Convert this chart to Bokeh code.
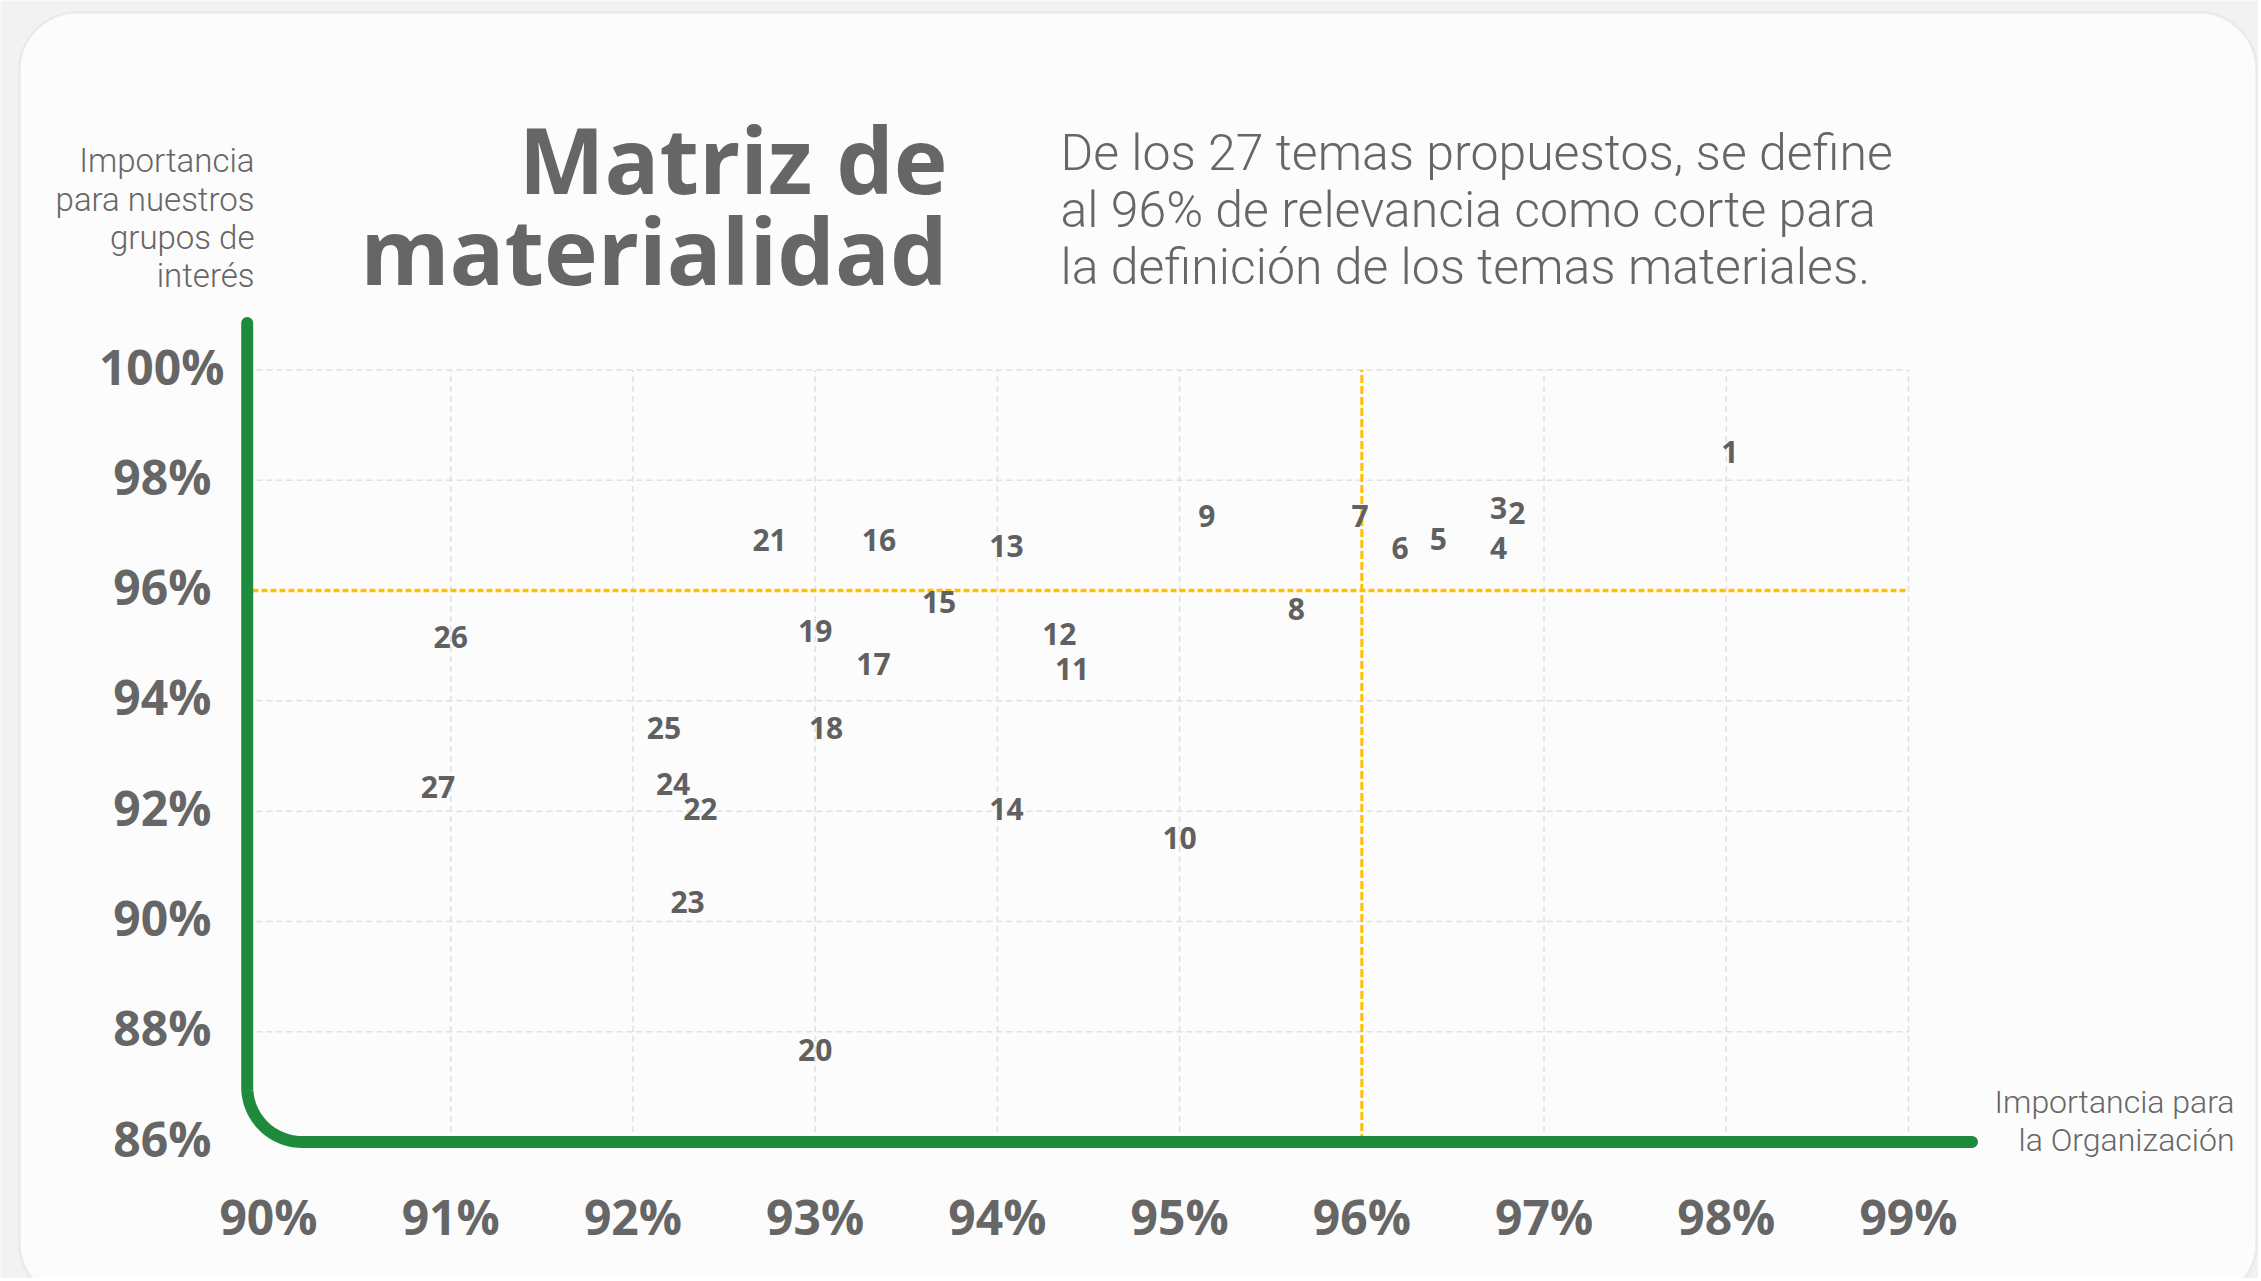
import numpy as np
from bokeh.plotting import figure
from bokeh.models import Range1d, FixedTicker, Label, BoxAnnotation, LinearAxis
from bokeh.core.properties import value
from bokeh.embed import file_html
from bokeh.resources import INLINE

# ---------------- data ----------------
topic_ids = [str(i) for i in range(1, 28)]
org_importance = [98.02, 96.85, 96.75, 96.75, 96.42, 96.21, 95.99, 95.64, 95.15, 95.00,
                  94.41, 94.34, 94.05, 94.05, 93.68, 93.35, 93.32, 93.06, 93.00, 93.00,
                  92.75, 92.37, 92.30, 92.22, 92.17, 91.00, 90.93]
stakeholder_importance = [98.51, 97.41, 97.49, 96.78, 96.94, 96.78, 97.36, 95.67, 97.36, 91.52,
                          94.58, 95.22, 96.80, 92.04, 95.79, 96.91, 94.66, 93.51, 95.26, 87.66,
                          96.91, 92.04, 90.35, 92.49, 93.51, 95.16, 92.43]
x_ticks = [90, 91, 92, 93, 94, 95, 96, 97, 98, 99]
x_tick_labels = ["90%", "91%", "92%", "93%", "94%", "95%", "96%", "97%", "98%", "99%"]
y_ticks = [86, 88, 90, 92, 94, 96, 98, 100]
y_tick_labels = ["86%", "88%", "90%", "92%", "94%", "96%", "98%", "100%"]
cutoff = 96

title_lines = ["Matriz de", "materialidad"]
note_lines = ["De los 27 temas propuestos, se define",
              "al 96% de relevancia como corte para",
              "la definición de los temas materiales."]
y_title_lines = ["Importancia", "para nuestros", "grupos de", "interés"]
x_title_lines = ["Importancia para", "la Organización"]

# ---------------- layout (canvas pixels) ----------------
W, H = 2258, 1278
X0_PX, X1_PX = 268.0, 1908.0     # pixel of first / last x tick
Y0_PX, Y1_PX = 1141.5, 369.5     # pixel of first / last y tick
sx = (X1_PX - X0_PX) / (x_ticks[-1] - x_ticks[0])
sy = (Y0_PX - Y1_PX) / (y_ticks[-1] - y_ticks[0])

def px2x(px):
    return x_ticks[0] + (px - X0_PX) / sx

def px2y(py):
    return y_ticks[0] + (Y0_PX - py) / sy

GRAY = "#666666"
GREEN = "#1e8a3b"
GOLD = "#ffc000"
BOLD = "Open Sans"
LIGHT = "'Roboto Light', 'Lato Light', Roboto"

p = figure(width=W, height=H, output_backend="svg", toolbar_location=None, title=None,
           x_range=Range1d(px2x(0), px2x(W)), y_range=Range1d(px2y(H), px2y(0)),
           y_axis_location=None,
           min_border_left=0, min_border_right=0, min_border_top=0, min_border_bottom=0)
p.border_fill_color = "#f2f2f2"
p.background_fill_color = "#f2f2f2"
p.outline_line_color = None
p.xgrid.visible = False
p.ygrid.visible = False

# card
card = BoxAnnotation(left=px2x(19), right=px2x(2256), top=px2y(12), bottom=px2y(1300),
                     fill_color="#fcfcfc", fill_alpha=1, line_color="#d2d2d2", line_width=2.5,
                     border_radius=58, level="image")
p.add_layout(card)

def style_axis(ax, so):
    ax.axis_line_color = None
    ax.major_tick_line_color = None
    ax.minor_tick_line_color = None
    ax.major_tick_in = 0
    ax.major_tick_out = 0
    ax.major_label_standoff = so
    ax.major_label_text_font = BOLD
    ax.major_label_text_font_style = "bold"
    ax.major_label_text_font_size = "48px"
    ax.major_label_text_color = GRAY

# x axis (drawn at a fixed position inside the canvas)
p.xaxis.fixed_location = px2y(1150)
p.xaxis.ticker = FixedTicker(ticks=x_ticks)
p.xaxis.major_label_overrides = dict(zip(x_ticks, x_tick_labels))
style_axis(p.xaxis[0], 33)

# y axis labels: visually centred column (wide label gets its own axis)
lab_shift = 4 / sy
p.extra_y_ranges = {"ylab": Range1d(p.y_range.start - lab_shift, p.y_range.end - lab_shift)}
y_over = dict(zip(y_ticks, y_tick_labels))
wide = [t for t, s in zip(y_ticks, y_tick_labels) if len(s) > 3]
narrow = [t for t, s in zip(y_ticks, y_tick_labels) if len(s) <= 3]
for ticks, so in ((wide, 10), (narrow, 23)):
    ax = LinearAxis(y_range_name="ylab", ticker=FixedTicker(ticks=ticks),
                    major_label_overrides=y_over, fixed_location=px2x(234))
    style_axis(ax, so)
    p.add_layout(ax, "left")

# grid lines
vx = [t for t in x_ticks if t not in (x_ticks[0], cutoff)]
p.segment(x0=vx, x1=vx, y0=[y_ticks[0]] * len(vx), y1=[y_ticks[-1]] * len(vx),
          line_color="#e0e0e0", line_width=1.5, line_dash="6 4")
hy = [t for t in y_ticks if t not in (y_ticks[0], cutoff)]
p.segment(x0=[px2x(256)] * len(hy), x1=[x_ticks[-1]] * len(hy), y0=hy, y1=hy,
          line_color="#e0e0e0", line_width=1.5, line_dash="6 4")

# cut-off lines
p.segment(x0=[px2x(252)], x1=[x_ticks[-1]], y0=[cutoff], y1=[cutoff],
          line_color=GOLD, line_width=3.5, line_dash="6 3")
p.segment(x0=[cutoff], x1=[cutoff], y0=[y_ticks[0]], y1=[y_ticks[-1]],
          line_color=GOLD, line_width=3, line_dash="8 3")

# green L-shaped axis line with rounded corner
ax_px, top_px, end_px, r = 246.7, 322.5, 1971.5, 55.0
t = np.linspace(0, np.pi / 2, 24)
cx, cy = ax_px + r, Y0_PX - r
line_px_x = [ax_px, ax_px] + list(cx - r * np.cos(t)) + [end_px]
line_px_y = [top_px, cy] + list(cy + r * np.sin(t)) + [Y0_PX]
p.line([px2x(v) for v in line_px_x], [px2y(v) for v in line_px_y],
       line_color=GREEN, line_width=12, line_cap="round", line_join="round")

# topic labels
p.text(x=org_importance, y=stakeholder_importance, text=topic_ids,
       text_align="center", text_baseline="middle", text_font=value(BOLD),
       text_font_style="bold", text_font_size="30px", text_color="#606060")

# free texts
def add_label(txt, px, py, size, font, style, align):
    p.add_layout(Label(x=px2x(px), y=px2y(py), text=txt, text_font=font, text_font_style=style,
                       text_font_size=size, text_color=GRAY, text_align=align,
                       text_baseline="middle"))

for i, s in enumerate(title_lines):
    add_label(s, 947, 158.7 + 91 * i, "91px", BOLD, "bold", "right")
for i, s in enumerate(note_lines):
    add_label(s, 1060, 152.3 + 57.3 * i, "50px", LIGHT, "normal", "left")
for i, s in enumerate(y_title_lines):
    add_label(s, 254, 160.4 + 38.3 * i, "33px", LIGHT, "normal", "right")
for i, s in enumerate(x_title_lines):
    add_label(s, 2234, 1101.5 + 38 * i, "32px", LIGHT, "normal", "right")

open("out.html", "w").write(file_html(p, INLINE))
